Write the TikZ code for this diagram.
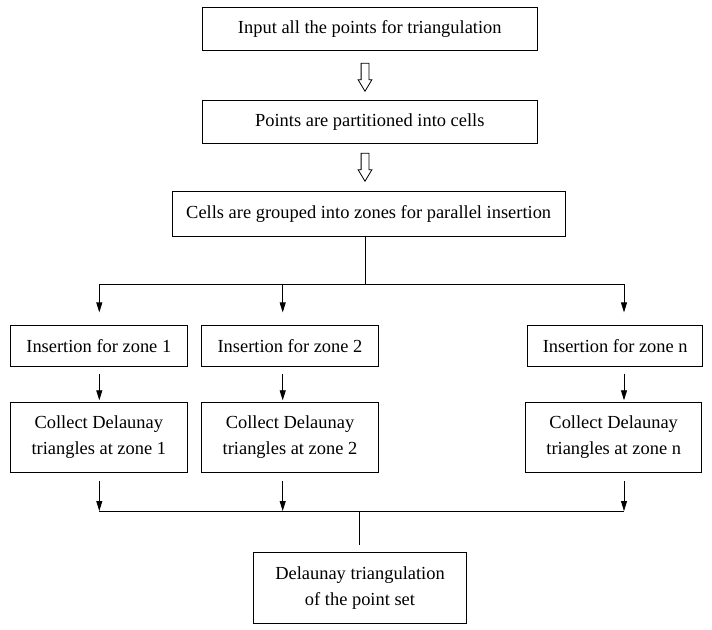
\documentclass[tikz,border=0pt]{standalone}
\usepackage{fontspec}
\setmainfont{Liberation Serif}
\usetikzlibrary{shapes.arrows,arrows.meta}
\newcommand{\flowboxnode}[5] {\node at (#1) (#2) [draw, minimum width=#3, minimum height=#4, inner sep=0pt, align=center] {#5};}
\newcommand{\fahollowarrow}[2] {\node at (#1) (#2) [single arrow, draw, rotate=-90, minimum height=28bp, inner sep=3.5bp, single arrow head extend=3bp, single arrow tip angle=62] {};}
\newcommand{\fadownarrow}[4] {\draw [-{Triangle[length=10bp, width=6bp]}, shorten <=#3, shorten >=#4] (#1) -- (#2) ;}

\begin{document}
\begin{tikzpicture}[x=1bp, y=-1bp, line width=0.8bp, font=\fontsize{18.5}{26}\selectfont]
\useasboundingbox (0,0) rectangle (712,630);

\flowboxnode {369.8,28.7} {input} {334.5bp} {42.7bp} {Input all the points for triangulation};
\flowboxnode {369.8,121.8} {cells} {334.5bp} {42.3bp} {Points are partitioned into cells};
\flowboxnode {368.7,213.8} {zones} {392.7bp} {44.3bp} {Cells are grouped into zones for parallel insertion};
\flowboxnode {98.8,346} {ins1} {177.7bp} {41bp} {Insertion for zone 1};
\flowboxnode {290,346} {ins2} {176.6bp} {41bp} {Insertion for zone 2};
\flowboxnode {615.2,346} {insn} {175bp} {41bp} {Insertion for zone n};
\flowboxnode {98.8,437.5} {col1} {177.7bp} {69.6bp} {Collect Delaunay\\triangles at zone 1};
\flowboxnode {290,437.5} {col2} {176.6bp} {69.6bp} {Collect Delaunay\\triangles at zone 2};
\flowboxnode {613.7,437.5} {coln} {176bp} {69.6bp} {Collect Delaunay\\triangles at zone n};
\flowboxnode {360,587.8} {final} {213.4bp} {71bp} {Delaunay triangulation\\of the point set};

\fahollowarrow {365,74} {step1};
\fahollowarrow {365,164} {step2};

% split to the zones
\coordinate (split) at (365,284);
\coordinate (tap1) at (99.3,284);
\coordinate (tap2) at (282.7,284);
\coordinate (tapn) at (624,284);
\draw (zones.south -| split) -- (split);
\draw (tap1) -- (tapn);
\fadownarrow {tap1}{tap1 |- ins1.north}{0bp}{12.7bp};
\fadownarrow {tap2}{tap2 |- ins2.north}{0bp}{12.7bp};
\fadownarrow {tapn}{tapn |- insn.north}{0bp}{12.7bp};

\fadownarrow {ins1.south -| tap1}{col1.north -| tap1}{6.7bp}{2bp};
\fadownarrow {ins2.south -| tap2}{col2.north -| tap2}{6.7bp}{2bp};
\fadownarrow {insn.south -| tapn}{coln.north -| tapn}{6.7bp}{2bp};

% join the results
\coordinate (join) at (359.3,511);
\coordinate (sink1) at (99.3,511);
\coordinate (sink2) at (282.7,511);
\coordinate (sinkn) at (624,511);
\fadownarrow {col1.south -| sink1}{sink1}{8.4bp}{0bp};
\fadownarrow {col2.south -| sink2}{sink2}{8.4bp}{0bp};
\fadownarrow {coln.south -| sinkn}{sinkn}{8.4bp}{0bp};
\draw (sink1) -- (sinkn);
\draw [shorten >=7.3bp] (join) -- (final.north -| join);

\end{tikzpicture}
\end{document}
